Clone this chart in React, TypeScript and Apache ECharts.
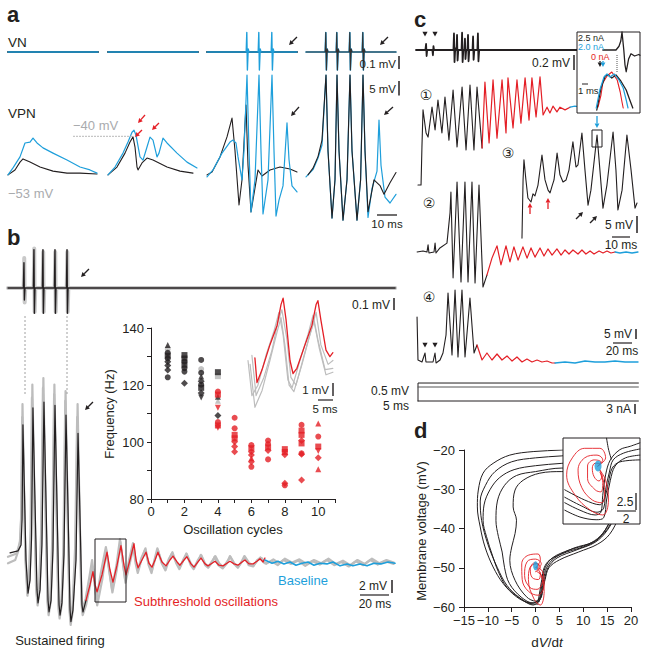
import React, { useEffect, useRef } from "react";
import * as echarts from "echarts";

const FONT = '"Liberation Sans", Arial, Helvetica, sans-serif';
const CIRC = '"DejaVu Sans", "Noto Sans CJK SC", sans-serif';
const BLACK = "#231f20";
const BLUE = "#1e9fdb";
const RED = "#e41f26";
const GRAY = "#bdbdbd";
const LGRAY = "#a9abae";

// ---------------- Panel a (time ms, VN mV, VPN mV) ----------------
const aVnFlat = [[0, 0], [45, 0]];
const aVn3Blue = [[0, 0], [19.6, 0], [19.9, 0.13], [20.2, -0.12], [20.6, 0.02], [21, 0], [25.6, 0], [25.9, 0.13], [26.2, -0.12], [26.6, 0.02], [27, 0], [32.1, 0], [32.4, 0.13], [32.7, -0.12], [33.1, 0.02], [33.5, 0], [45, 0]];
const aVn4 = [[0, 0], [9.6, 0], [9.9, 0.13], [10.2, -0.12], [10.6, 0.02], [11, 0], [15.1, 0], [15.4, 0.13], [15.7, -0.12], [16.1, 0.02], [16.5, 0], [21.6, 0], [21.9, 0.13], [22.2, -0.12], [22.6, 0.02], [23, 0], [28.1, 0], [28.4, 0.13], [28.7, -0.12], [29.1, 0.02], [29.5, 0], [45, 0]];

const a1Blue = [[0, -53.3], [2.5, -50.9], [6, -47.1], [8.5, -42.3], [11, -42], [12.5, -40.6], [14.5, -42.3], [17.5, -44], [22.5, -45.8], [29.5, -48.2], [36, -50.6], [41, -51.6], [44.5, -52.7]];
const a1Black = [[0, -53.3], [3.5, -51.6], [6, -48.9], [7.5, -47.8], [11, -48.9], [16, -50.6], [22.5, -52], [29.5, -52.7], [36, -52.7], [44.5, -53]];
const a2Blue = [[0, -53.3], [3.5, -50.6], [7.5, -45.8], [10, -42], [12, -38.6], [13, -37.9], [14, -39.6], [16, -47.1], [17.5, -48.2], [19.5, -43.7], [21, -40.3], [22.5, -41.3], [24.5, -47.1], [25.5, -45.8], [27.5, -40.6], [29.5, -42.3], [34.5, -45.8], [39.5, -48.9], [44.5, -50.9]];
const a2Black = [[0, -53.3], [4.5, -50.6], [8.5, -45.8], [11, -42], [12.5, -40.2], [13.5, -43.7], [14.5, -50.6], [15, -51.6], [17, -49.2], [19.5, -47.5], [22.5, -48.2], [29.5, -50.6], [36, -52], [42.5, -52.7]];
const a3Black = [[0, -53.3], [2.5, -52.3], [6.5, -47.1], [10, -40.2], [12.5, -33.7], [14, -45], [16, -63.7], [17.5, -55], [19.5, -29.2], [20.5, -50], [22, -66.1], [25.5, -51.6], [27.5, -53.7], [31.5, -51.6], [36.5, -50.6], [41.5, -51.3], [45, -52.3]];
const a3Blue = [[0, -54], [3, -51.6], [7.5, -45.8], [11.5, -42], [13, -41.3], [14.5, -42.3], [15.5, -47.1], [17.5, -55], [18.5, -45], [20, -18.9], [21, -45], [22, -66.1], [24, -55], [26, -18.9], [27, -45], [28, -66.8], [30.5, -55], [32.5, -18.9], [33.5, -45], [34.5, -67.5], [36, -62], [38, -57.1], [40, -35.4], [41, -48], [42.5, -57.1], [45, -59.2]];
const a4Black = [[1, -53.3], [3.5, -51], [6, -47], [8, -41.3], [10, -18.9], [11, -45], [13, -68.2], [14.5, -55], [15.5, -18.9], [16.5, -45], [18.5, -68.9], [20.5, -55], [22, -18.9], [23, -45], [25.5, -68.9], [27.3, -55], [28.5, -18.9], [29.5, -45], [31, -66], [34, -55], [37, -57], [39, -60], [42, -56], [45, -52.5]];
const a4Blue = [[0, -54], [3.5, -51.5], [6, -47.5], [8, -43], [10, -18.9], [11, -45], [13, -68.2], [14.5, -55], [15.5, -18.9], [16.5, -45], [18.5, -68.9], [20.5, -55], [22, -18.9], [23, -45], [25.5, -68.9], [27.3, -55], [28.5, -18.9], [29.5, -45], [31, -68], [33, -58], [35.5, -52], [36.5, -34.4], [37.5, -50], [39.5, -61], [42, -63], [45, -60]];

// ---------------- Panel b ----------------
const bTopBlack = [[0, 0], [10.6, 0], [11, 0.21], [11.3, -0.1], [11.7, 0], [17.5, 0], [17.9, 0.32], [18.2, -0.21], [18.6, 0], [23.7, 0], [24.1, 0.32], [24.4, -0.21], [24.8, 0], [32, 0], [32.4, 0.32], [32.7, -0.21], [33.1, 0], [40.3, 0], [40.7, 0.32], [41, -0.21], [41.4, 0], [267, 0]];
const bTopGray = [[0, 0], [10.8, 0], [11.2, 0.25], [11.5, -0.12], [11.9, 0], [17.7, 0], [18.1, 0.33], [18.4, -0.2], [18.8, 0], [23.9, 0], [24.3, 0.3], [24.6, -0.2], [25, 0], [32.2, 0], [32.6, 0.3], [32.9, -0.2], [33.3, 0], [40.5, 0], [40.9, 0.3], [41.2, -0.2], [41.6, 0], [267, 0]];
const bMainBlack = [[1.4, 1.1], [6.9, 1.4], [9, 2.3], [9.7, 6.2], [10.3, 20.8], [11, 13.8], [12.4, 0], [13.8, -5.1], [15.2, -3.1], [16.2, 3.1], [17.2, 23.4], [18.6, 9.2], [20, -4.6], [20.7, -6.6], [22.1, -4.6], [23.4, 2.3], [24.8, 24.3], [26.2, 9.2], [27.6, -6.2], [28.3, -8], [29.7, -6.2], [31, 1.5], [32.4, 23.8], [33.8, 8.5], [35.2, -6.9], [35.9, -8.5], [37.2, -6.6], [38.6, 0.8], [40, 22.3], [41.4, 7.7], [42.8, -7.7], [43.4, -9.5], [44.8, -7.7], [46.9, 0], [48.3, 19.5], [49.7, 6.2], [51, -6.9], [51.7, -8], [53.8, -6.2]];
const bMainRed = [[53.8, -6.2], [56.6, -3.8], [58.6, -1.8], [60, -3.8], [61.4, -4.9], [64.8, -2.3], [68.3, 1.2], [70.3, -1.5], [72.4, -3.4], [75.2, -0.8], [77.9, 2.2], [80, -0.8], [81.4, -2.3], [84.1, 0], [86.9, 2.5], [88.3, 0], [89.7, -1.2], [92.4, 0], [95.2, 1.2], [97.2, -0.5], [99.3, -1.1], [101.4, 0], [103.4, 1.2], [106.2, -0.3], [109, -0.9], [111.7, 0], [113.8, 0.6], [116.6, -0.3], [118.6, -0.8], [121.4, 0], [123.4, 0.5], [126.2, -0.6], [128.3, -1.1], [131, -0.3], [133.1, 0.3], [135.9, -0.6], [137.9, -0.9], [140.7, -0.5], [142.8, -0.2], [145.5, -0.8], [148.3, -0.9], [151, -0.5], [153.1, -0.2], [155.9, -0.6], [158.6, -0.8], [161.4, -0.3], [163.4, 0], [166.2, -0.6], [169, -0.6], [171.7, -0.2], [173.8, 0.2], [175.9, -0.3], [177.2, 0.3]];
const bMainBlue = [[177.2, 0], [182.1, -0.5], [186.2, -0.2], [190.3, -0.6], [194.5, -0.3], [198.6, -0.8], [202.8, -0.5], [206.9, -0.3], [211, -0.8], [215.2, -0.5], [220, -0.6], [224.1, -0.3], [229, -0.9], [233.8, -0.6], [237.9, -0.9], [242.8, -0.6], [247.6, -0.9], [252.4, -0.5], [257.2, -0.6], [262.1, -0.3], [266.9, -0.5]];
const bGrayA = [[0, 0.5], [6, 1], [8.5, 3], [9.3, 8], [10, 24], [10.8, 14], [12, 0], [13.4, -5.5], [14.8, -3], [16, 4], [16.8, 27], [18.2, 10], [19.6, -5], [20.4, -7], [21.8, -4.5], [23.1, 3], [24.4, 28], [25.8, 10], [27.2, -6.5], [28, -8.5], [29.4, -6.5], [30.8, 2], [32, 27], [33.4, 9], [34.8, -7.5], [35.6, -9], [37, -7], [38.4, 1], [39.7, 26], [41.1, 8], [42.5, -8], [43.2, -10], [44.6, -8], [46.6, 1], [48, 24], [49.4, 7], [50.8, -7], [51.5, -8.5], [53.8, -7], [56.5, -4], [58.4, -1], [60.5, -5], [61.5, -7], [65, -3], [67.8, 1.5], [70, -2], [72, -5], [75, -1.5], [77.5, 2.8], [79.6, -1], [81, -3.5], [84, -0.5], [86.5, 2], [88, -0.5], [89.5, -2], [92, 0], [94.8, 1.8], [97, -0.8], [99, -2], [101, 0], [103, 1.8], [106, -0.5], [108.6, -1.6], [111, 0], [113.4, 1.2], [116, -0.5], [118.2, -1.4], [121, 0], [123, 1], [126, -0.8], [128, -1.4], [131, -0.2], [133, 0.8], [136, -0.8], [138, -1.2], [141, -0.3], [142.5, 0.5], [145, -0.8], [148, -1.3], [151, -0.5], [153, 0.6], [156, -0.6], [158.5, -1.2], [161, -0.3], [163, 0.6], [166, -0.8], [169, -1], [171.5, -0.2], [174, 0.4], [177, -0.5], [182, -0.2], [186, -0.8], [190, 0], [195, -0.6], [200, -0.1], [205, -0.9], [210, -0.2], [215, -0.7], [220, 0], [225, -0.8], [230, -0.3], [235, -1], [240, -0.2], [245, -0.8], [250, 0], [255, -0.7], [260, -0.2], [266, -0.6]];
const bGrayB = [[0, -0.5], [5, 0], [8, 2], [9, 6], [9.8, 22], [10.6, 16], [11.8, 2], [13.2, -4], [14.4, -2.5], [15.6, 5], [16.5, 25], [17.8, 12], [19.3, -4], [20.2, -6], [21.5, -3.5], [22.8, 4], [24.1, 26.5], [25.5, 12], [27, -5], [27.9, -7.5], [29.2, -5.5], [30.5, 3], [31.8, 25.5], [33.2, 11], [34.6, -6], [35.5, -8], [36.9, -6], [38.2, 2], [39.5, 24.5], [40.9, 10], [42.3, -7], [43.1, -9], [44.5, -7], [46.3, 2], [47.7, 22], [49.2, 9], [50.6, -6], [51.4, -7.5], [53.5, -6], [56.2, -2.5], [58, 0], [59.5, -3], [61, -6], [64, -2], [67.5, 2], [69.5, -1], [71.8, -4.5], [75, -0.5], [77.2, 3.2], [79, 0], [80.8, -3], [83.5, 0], [86.2, 2.6], [88, 0], [89.5, -1.6], [92, 0.3], [94.5, 1.6], [96.8, -0.3], [99, -1.7], [101.5, 0.2], [103.3, 1.6], [105.8, -0.2], [108.4, -1.4], [111, 0.2], [113, 1], [115.8, -0.2], [118.3, -1.2], [121, 0.1], [123.3, 0.9], [126, -0.5], [128.4, -1.2], [131, 0], [133.4, 0.7], [136, -0.6], [138.3, -1], [141, -0.1], [143, 0.6], [145.6, -0.5], [148.4, -1.1], [151, -0.3], [153.4, 0.5], [156, -0.5], [158.8, -1], [161.5, -0.2], [163.5, 0.5], [166.5, -0.5], [169.2, -0.9], [172, 0], [175, 0.3], [178, -0.6], [183, 0.1], [187, -0.5], [191, 0.2], [196, -0.4], [201, 0.1], [206, -0.6], [211, 0], [216, -0.5], [221, 0.2], [226, -0.6], [231, -0.1], [236, -0.8], [241, 0], [246, -0.6], [251, 0.2], [256, -0.5], [261, 0], [266, -0.4]];

// Inset of b: frequency vs oscillation cycle  [cycle, Hz, marker]
const freqBlack = [[1, 134, "t"], [1, 131.3, "c"], [1, 130.3, "s"], [1, 129.3, "c"], [1, 128.2, "d"], [1, 126.8, "d"], [1, 125.3, "d"], [1, 122.7, "c"], [2, 130.5, "s"], [2, 129.3, "s"], [2, 128.2, "c"], [2, 127.1, "s"], [2, 125.9, "c"], [2, 124.7, "c"], [2, 120.6, "d"], [3, 128.8, "c"], [3, 124.3, "c"], [3, 123, "t"], [3, 121.3, "d"], [3, 120.1, "c"], [3, 119, "s"], [3, 117.2, "d"], [3, 115.6, "v"], [4, 124.5, "s"], [4, 115.9, "t"], [4, 109.3, "d"]];
const freqGray = [[1, 132.6, "c"], [3, 125.6, "c"], [4, 123.1, "s"], [4, 114.5, "t"]];
const freqRed = [[4, 117.7, "c"], [4, 116.6, "s"], [4, 112, "v"], [4, 107, "c"], [4, 105.8, "s"], [4, 105, "v"], [5, 108.5, "c"], [5, 104.8, "c"], [5, 102.5, "s"], [5, 101.3, "s"], [5, 100.1, "d"], [5, 98.4, "d"], [5, 96.6, "d"], [6, 98.9, "c"], [6, 97.8, "s"], [6, 96.6, "d"], [6, 95.4, "d"], [6, 94.3, "t"], [6, 93.1, "d"], [6, 91.3, "c"], [7, 100.5, "c"], [7, 99.3, "c"], [7, 98.1, "s"], [7, 97, "d"], [7, 93.9, "c"], [8, 97.5, "s"], [8, 96.5, "s"], [8, 95.5, "d"], [8, 85.5, "d"], [8, 84.8, "c"], [9, 106, "c"], [9, 104, "s"], [9, 102.5, "s"], [9, 100.5, "d"], [9, 99.5, "s"], [9, 96, "c"], [9, 95.7, "d"], [9, 86.7, "d"], [10, 106.5, "t"], [10, 101.9, "c"], [10, 98.4, "s"], [10, 96.8, "v"], [10, 94.5, "d"], [10, 90.4, "t"]];
const freqXTicks = [0, 2, 4, 6, 8, 10];
const freqYTicks = [80, 100, 120, 140];

// Superimposed oscillation cycles (ms, mV)
const bInsetRed = [[3.3, 1.7], [4, -0.2], [5.7, 0.8], [8.3, 2.7], [10.7, 4.2], [12, 5.8], [12.7, 6.3], [13.7, 4.6], [15, 1.5], [16, 0.5], [17.3, 0.9], [20, 2.7], [22.3, 4.2], [23.7, 5.8], [24.3, 6.1], [25.3, 4.6], [27, 2.3], [28.3, 1.8], [29.3, 2.1]];
const bInsetGray1 = [[1, 1.5], [2.3, -1.2], [4.3, -0.4], [7, 1.9], [9.7, 3.8], [11.3, 5.2], [12.7, 3.5], [14.3, 0], [15.7, -0.6], [18.3, 1.5], [21, 3.5], [22.7, 5], [24.3, 3.1], [26.7, 0.8], [29.3, 0.9]];
const bInsetGray2 = [[1.7, 1.2], [3.3, -2.1], [5.7, -0.8], [8.3, 1.5], [10.7, 3.7], [12, 4.8], [13.3, 2.7], [14.7, -0.4], [16.3, -0.9], [19, 1.2], [21.3, 3.2], [23, 4.5], [24.7, 2.5], [27, 0.4], [29.3, 0.6]];
const bInsetGray3 = [[2.3, 1.9], [3.7, -1.2], [6.3, 0.2], [9, 2.3], [11, 4.5], [12.3, 5.4], [14, 3.1], [15.3, 0.2], [17, -0.4], [19.7, 1.9], [22, 3.8], [23.7, 5.2], [25.3, 2.7], [27.7, 1.2], [29.3, 1.5]];

// ---------------- Panel c ----------------
const cTop = [[0, 0], [5.2, 0], [5.6, 0.08], [5.9, -0.08], [6.2, 0], [9.1, 0], [9.4, -0.07], [9.7, 0.05], [10, 0], [20.8, 0], [21.1, 0.22], [21.4, -0.16], [21.8, 0.02], [22.5, 0], [22.8, 0.2], [23.1, -0.14], [23.5, 0], [25.3, 0], [25.6, 0.23], [25.9, -0.16], [26.3, 0], [26.9, 0], [27.2, 0.15], [27.5, -0.12], [27.9, 0], [28.6, 0], [28.9, 0.2], [29.2, -0.15], [29.6, 0], [31.4, 0], [31.7, 0.18], [32, -0.13], [32.4, 0], [34.1, 0], [34.4, 0.22], [34.7, -0.15], [35.1, 0], [91, 0]];
const c1Black = [[1.1, -10.3], [2.8, -10.3], [3.3, 0.9], [3.9, 11.8], [5.6, 5], [6.7, 3.8], [8.9, 12.6], [10.6, 5.9], [12.2, 14.7], [14.4, 5], [16.1, 15.6], [18.3, 2.9], [20.6, 17.6], [22.8, 0.9], [25.6, 18.5], [27.8, 0], [30, 19.1], [32.2, 0], [33.9, 18.5], [36.7, 0.6]];
const c1Red = [[36.7, 0.6], [38.3, 20], [40.6, 2.1], [42.8, 20.6], [45, 3.5], [47.8, 20.6], [50, 5], [51.1, 21.2], [53.9, 6.5], [56.1, 20.6], [58.3, 7.9], [60.6, 21.2], [62.8, 8.8], [64.4, 21.2], [66.7, 9.7], [68.9, 21.5], [70.6, 10.3], [72.8, 12.6], [74.4, 10.9], [76.1, 12.9], [78.3, 11.2], [80, 12.6], [82.8, 11.8], [85.6, 12.6]];
const c1Blue = [[85.6, 12.6], [88.3, 12.9], [91.1, 12.6]];
const c2Black = [[0.6, 0], [3.9, 0.3], [6.1, 0], [6.7, 2.1], [7.2, -0.3], [10, 0], [10.6, 2.6], [11.1, -0.3], [13.3, 1.2], [17.2, 2.6], [18.9, 11.5], [19.4, 17.6], [20.6, -7.6], [22.8, 20.6], [25, -8.8], [27.2, 20.6], [28.9, -8.8], [31.1, 20.6], [32.8, -9.1], [35, 19.7], [37.2, -10.3], [39.4, -6.8]];
const c2Red = [[39.4, -6.8], [42.2, -1.8], [45, 1.8], [47.2, -3.8], [50, 1.8], [52.2, -2.9], [54.4, 1.5], [56.7, -2.4], [59.4, 1.5], [61.7, -1.8], [63.9, 1.2], [66.1, -1.5], [68.9, 1.2], [71.1, -1.2], [73.3, 0.9], [75.6, -0.9], [78.3, 0.9], [80.6, -0.9], [82.8, 0.6], [85, -0.6], [87.2, 0.6], [90, -0.6], [92.2, 0.6], [94.4, -0.6], [96.7, 0.3], [98.9, -0.6], [101.7, 0.3], [103.9, -0.3], [106.1, 0.3], [108.3, -0.3], [110.6, 0]];
const c2Blue = [[110.6, 0], [113.3, -0.3], [116.7, 0], [120, -0.3], [123.3, 0]];
const c3Black = [[1.1, -11.2], [1.7, 5.9], [2.2, 11.8], [3.3, 5.9], [4.4, 0.6], [6.1, -0.6], [7.2, 1.8], [8.3, 1.2], [10, 4.4], [12.2, 13.2], [13.9, 5.9], [15.6, 2.9], [16.7, 2.1], [17.8, 4.1], [18.9, 5.9], [20.6, 13.8], [22.2, 7.4], [23.9, 5.3], [25.6, 5.9], [27.2, 8.8], [29.4, 17.1], [31.1, 9.7], [32.2, 10.3], [34.4, 19.7], [36.1, 8.8], [37.8, -1.5], [39.4, 2.9], [42.8, 19.1], [44.4, 8.8], [46.1, -2.4], [48.3, 4.4], [51.7, 20], [53.3, 8.8], [54.4, -2.9], [56.7, 2.9], [59.4, 19.1], [61.7, 8.8], [63.9, -2.4], [65, -0.9]];
const c4Black = [[1.1, 22.5], [2.1, 1], [6.3, 0], [9.5, 4.5], [10.5, 0], [17.9, 0], [20, 4.5], [21.1, -0.5], [25.3, 1], [28.4, 4.5], [31.6, 13.5], [33.7, 34.5], [37.9, 3.5], [41.1, 36], [44.2, 2.5], [48.4, 36], [51.6, 2.5], [56.8, 32], [61.1, 4.5], [64.2, 8.5]];
const c4Red = [[64.2, 8.5], [69.5, 1], [74.7, 4.5], [80, 1], [85.3, 4], [90.5, 1], [95.8, 3], [101.1, 0.5], [106.3, 2.5], [111.6, 0], [116.8, 1.5], [122.1, 0], [127.4, 1], [132.6, 0], [137.9, 0.5], [143.2, -0.5], [146.3, -0.5]];
const c4Blue = [[146.3, -0.5], [156.8, 0], [167.4, -0.5], [177.9, 0.5], [188.4, 0], [198.9, 0], [209.5, 0.5], [220, 0], [233.7, 0]];
const cCurrentStep = [[0, 0], [0, 5.4], [232, 5.4]];
const cCurrentBase = [[0, 0], [232, 0]];
const cExtBottom = [[0, 0], [232, 0]];
// inset of c (ms)
const ciExt = [[4.3, 0], [6.5, 0], [7, 0.05], [7.3, 0.12], [7.5, 0.24], [7.8, 0], [8, -0.2], [8.2, -0.29], [8.6, -0.12], [9, -0.05], [9.6, -0.08], [10.3, -0.06], [10.5, -0.07]];
const ciBlack = [[3.3, 0], [4, 8.8], [4.7, 13.6], [5.2, 14], [5.8, 12.8], [6.5, 14], [7.3, 11.6], [8.2, 8], [8.8, 4], [9.3, 0.8]];
const ciBlue = [[3.2, 0.8], [3.8, 8], [4.5, 13.2], [5, 14.4], [5.5, 13.2], [6.2, 14.4], [7, 12], [7.7, 8.8], [8.2, 4], [8.5, 0.8]];
const ciRed = [[3.5, 1.2], [4, 6], [4.3, 10.8], [5, 13.6], [5.8, 15.2], [6.7, 12], [7.2, 7.2], [7.5, 3.2], [7.7, 0.8]];

// ---------------- Panel d (dV/dt, V in mV) ----------------
const dLoop1 = [[0.5, -59], [1.3, -53], [1.8, -50], [3, -48], [6.5, -46], [10, -44.7], [12.8, -43], [14.6, -40.4], [16.3, -36.2], [18, -31], [19.5, -25], [20.5, -20], [15, -19.3], [10, -19.5], [5.5, -20], [-0.5, -20.4], [-5.4, -21.3], [-8.9, -23.4], [-11, -25.9], [-12, -30.2], [-12.2, -34.5], [-11.6, -39.6], [-10.6, -44.7], [-8.9, -49.8], [-6.8, -54], [-4, -57.4], [-1.2, -59.1], [0.5, -59.3]];
const dLoop2 = [[0.8, -58.5], [1.5, -53], [2, -50], [3.5, -47.5], [7, -45.5], [11, -44], [13.5, -42], [15.5, -38.5], [17.5, -33], [19.5, -26], [20.5, -22], [10, -21], [5.5, -21.5], [0, -22], [-5, -23], [-8.5, -25.5], [-10.5, -29], [-11.6, -33], [-11.3, -38], [-10, -44], [-8, -50], [-6, -54.5], [-3.5, -57.5], [-1, -59], [0.8, -58.5]];
const dLoop3 = [[1, -58], [1.7, -53], [2.3, -50], [4, -47.5], [8, -45], [12, -43.5], [14.5, -41], [16.5, -37], [18.5, -31], [20, -26], [20.5, -24], [10, -23], [5.5, -23.4], [0, -24], [-4.5, -25], [-7.5, -27], [-9.5, -30], [-10.8, -34], [-11, -38], [-10.3, -42], [-9, -47], [-7.8, -51], [-6, -55], [-3, -58], [-0.5, -59.5], [1, -58]];
const dLoop4 = [[1.2, -57.5], [1.9, -53], [2.6, -50], [4.5, -47.5], [8.5, -45.5], [12.5, -43.5], [15, -40.5], [17, -36], [19, -30], [20.5, -26], [10, -24.6], [5.5, -24.6], [0, -25.5], [-4, -26.5], [-6.5, -29], [-8, -33], [-8.3, -38], [-7.8, -42], [-7, -46], [-6.5, -50], [-5.5, -54], [-3, -57.5], [-0.5, -59], [1.2, -57.5]];
const dLoop5 = [[1.3, -57], [2, -53], [2.8, -50], [5, -48], [9, -46], [13, -44], [15.5, -41.5], [17.5, -37], [19.5, -31], [20.5, -28], [10, -25.5], [5.5, -25.5], [0.9, -25.9], [-2.6, -27.7], [-4.3, -30.2], [-4.7, -34.5], [-4, -37.9], [-4.3, -41.3], [-5, -44.7], [-5.4, -48.1], [-4.3, -53.2], [-1.9, -57.4], [0, -58.5], [1.3, -57]];
const dRed1 = [[0, -50], [1, -48], [0.5, -46.5], [-1.5, -46.8], [-2.9, -49], [-2.8, -53], [-1.5, -56], [0.5, -57], [1.8, -54], [1.5, -51], [0.5, -50]];
const dRed2 = [[0.3, -50.5], [1.2, -49], [0, -47.8], [-1.8, -48.5], [-2.3, -52], [-1.2, -55], [0.3, -55.5], [1.5, -53], [0.8, -51]];
const dRed3 = [[0, -51], [1, -50], [0.2, -49], [-1.2, -50], [-1.5, -53], [-0.3, -58], [1, -59.5], [1.8, -56], [1.2, -52], [0.3, -51]];
const dRed4 = [[0.2, -50], [0.8, -49.3], [-0.3, -48.8], [-1.1, -50.5], [-0.7, -52.5], [0.6, -53], [1, -51.5], [0.2, -50]];
const dFixed = [[0, -49.5]];
const dXTicks = [-15, -10, -5, 0, 5, 10, 15, 20];
const dYTicks = [-60, -50, -40, -30, -20];
// inset of d
const diBlack1 = [[-3.5, -55.4], [-1.9, -56.5], [-0.3, -57.2], [0.3, -56.8], [0.5, -54.3], [0.8, -51.3], [1.3, -49.1], [2.3, -47.6], [3.4, -47.1], [4.4, -46.6]];
const diBlack2 = [[-3.5, -54.6], [-1.7, -55.9], [-0.1, -56.8], [0.6, -56.2], [0.8, -53.5], [1.2, -50.9], [1.6, -49.1], [2.7, -48.1], [4.4, -47.5]];
const diBlack3 = [[-3.5, -56.5], [-1.9, -57.5], [-0.2, -57.9], [0.6, -57.6], [0.9, -55], [1.3, -52.1], [1.8, -50], [2.9, -48.8], [4.4, -48.4]];
const diBlack4 = [[-3.5, -53.5], [-1.4, -55], [0.2, -55.7], [0.7, -54.7], [1.1, -52.4], [1.5, -50.3], [2.3, -49.4], [4.4, -49.1]];
const diBlack5 = [[0.9, -45.9], [1.1, -47.5], [1.4, -49]];
const diRed1 = [[0, -50], [0.8, -48.8], [0.2, -47.4], [-1.4, -47.4], [-2.7, -48.8], [-3.3, -51.3], [-2.4, -54.3], [-0.8, -56.5], [0.5, -57.2], [1.1, -55], [0.8, -52.1], [0.2, -50.6]];
const diRed2 = [[0, -50], [0.5, -49.1], [-0.1, -48.4], [-1.4, -48.8], [-2.1, -50.6], [-1.7, -53.2], [-0.6, -55], [0.4, -55.4], [0.7, -53.5], [0.4, -51.3]];
const diRed3 = [[0, -50], [0.3, -49.4], [-0.4, -49.1], [-1.1, -50], [-1.1, -51.8], [-0.3, -53.5], [0.3, -53.8], [0.5, -52.4], [0.2, -50.9]];
const diRed4 = [[0, -50], [0.2, -49.7], [-0.3, -49.6], [-0.6, -50.3], [-0.4, -51.6], [0.1, -52.2], [0.4, -51.5], [0.2, -50.6]];
const diFixed = [[0, -50]];

// ---------------- layout (pixel rects and calibrations) ----------------
const aSegLeft = [8, 108, 207, 306];

function buildOption() {
  const grid: any[] = [];
  const xAxis: any[] = [];
  const yAxis: any[] = [];
  const series: any[] = [];
  const g: any[] = [];

  // rect: [left, top, width, height]; cal: [px of x=0, px of y=0, px per x unit, px per y unit]
  const panel = (rect: number[], cal: number[]) => {
    const [l, t, w, h] = rect;
    const [x0, y0, sx, sy] = cal;
    const i = grid.length;
    grid.push({ left: l, top: t, width: w, height: h });
    xAxis.push({ type: "value", gridIndex: i, show: false, min: (l - x0) / sx, max: (l + w - x0) / sx });
    yAxis.push({ type: "value", gridIndex: i, show: false, min: (y0 - (t + h)) / sy, max: (y0 - t) / sy });
    return i;
  };
  const trace = (i: number, data: any, color: string, width = 1.1, o: any = {}) =>
    series.push({
      type: "line", xAxisIndex: i, yAxisIndex: i, data, symbol: "none", showSymbol: false,
      smooth: o.smooth ?? false, clip: o.clip ?? false, silent: true, z: o.z ?? 3,
      lineStyle: { color, width, join: "round", cap: "round" },
    });

  const txt = (text: string, x: number, y: number, o: any = {}) =>
    g.push({
      type: "text", x, y, rotation: o.rot || 0, z: 50, silent: true,
      style: {
        text, fill: o.fill || BLACK, fontSize: o.size || 13, fontWeight: o.bold ? "bold" : "normal",
        fontFamily: o.family || FONT, align: o.align || "left", verticalAlign: "middle", rich: o.rich,
      },
    });
  const ln = (x1: number, y1: number, x2: number, y2: number, o: any = {}) =>
    g.push({ type: "line", z: 40, silent: true, shape: { x1, y1, x2, y2 }, style: { stroke: o.c || BLACK, lineWidth: o.w || 1, lineDash: o.dash } });
  const box = (x: number, y: number, w: number, h: number, o: any = {}) =>
    g.push({ type: "rect", z: o.z || 40, silent: true, shape: { x, y, width: w, height: h }, style: { fill: o.fill || "none", stroke: BLACK, lineWidth: 1 } });
  const arrow = (x1: number, y1: number, x2: number, y2: number, c: string) => {
    const a = Math.atan2(y2 - y1, x2 - x1);
    const L = 4.5, W = 2.4;
    const bx = x2 - L * Math.cos(a), by = y2 - L * Math.sin(a);
    const px = -Math.sin(a) * W, py = Math.cos(a) * W;
    g.push({ type: "line", z: 45, silent: true, shape: { x1, y1, x2: bx, y2: by }, style: { stroke: c, lineWidth: 1.3 } });
    g.push({ type: "polygon", z: 45, silent: true, shape: { points: [[x2, y2], [bx + px, by + py], [bx - px, by - py]] }, style: { fill: c } });
  };
  const tri = (x: number, y: number) =>
    g.push({ type: "polygon", z: 45, silent: true, shape: { points: [[x - 2.6, y - 2.2], [x + 2.6, y - 2.2], [x, y + 2.4]] }, style: { fill: BLACK } });

  // ===== Panel a =====
  const vpnSets = [[a1Black, a1Blue], [a2Black, a2Blue], [a3Black, a3Blue], [a4Black, a4Blue]];
  const vnSets = [[aVnFlat, aVnFlat], [aVnFlat, aVnFlat], [aVnFlat, aVn3Blue], [aVn4, aVn4]];
  aSegLeft.forEach((L, k) => {
    const vn = panel([L - 1, 25, 92, 50], [L, 52, 2, 150]);
    const vp = panel([L - 1, 60, 92, 172], [L, 20.3, 2, 2.9]);
    if (k < 3) {
      trace(vn, vnSets[k][0], "#333", 2.2);
      trace(vn, vnSets[k][1], BLUE, 1.4, { z: 4 });
      trace(vp, vpnSets[k][0], BLACK, 1.1);
      trace(vp, vpnSets[k][1], BLUE, 1.2, { z: 4 });
    } else {
      trace(vn, vnSets[k][1], BLUE, 1.6);
      trace(vn, vnSets[k][0], "#333", 1.1, { z: 4 });
      trace(vp, vpnSets[k][1], BLUE, 1.2);
      trace(vp, vpnSets[k][0], BLACK, 1.1, { z: 4 });
    }
  });
  txt("a", 7, 14, { size: 22, bold: true });
  txt("VN", 8, 42.5, { size: 13.5 });
  txt("VPN", 8, 113.5, { size: 13.5 });
  txt("\u221240 mV", 73, 125.5, { size: 13, fill: LGRAY });
  txt("\u221253 mV", 8, 193.5, { size: 13, fill: LGRAY });
  ln(73, 136.3, 133, 136.3, { c: "#b8b8b8", dash: [2, 1] });
  txt("0.1 mV", 396, 63.5, { size: 11.5, align: "right" });
  ln(399, 56, 399, 69, { w: 1.5 });
  txt("5 mV", 396, 88.5, { size: 11.5, align: "right" });
  ln(399, 81, 399, 95.5, { w: 1.5 });
  ln(377, 215, 397, 215, { w: 1.3 });
  txt("10 ms", 387, 224, { size: 11.5, align: "center" });
  arrow(297, 37, 289, 45, BLACK);
  arrow(388, 37, 380, 45, BLACK);
  arrow(299, 107, 291, 116, BLACK);
  arrow(393, 107, 384, 115, BLACK);
  arrow(145, 115, 138, 123, RED);
  arrow(142, 130, 135, 137, RED);
  arrow(159, 123, 152, 130, RED);

  // ===== Panel b =====
  const bt = panel([8, 240, 392, 90], [8, 288, 1.45, 120]);
  trace(bt, bTopGray, "#c9c9c9", 4);
  trace(bt, bTopBlack, BLACK, 1.4, { z: 4 });
  const bm = panel([8, 370, 392, 272], [8, 560, 1.45, 6.5]);
  trace(bm, bGrayA, GRAY, 2.2);
  trace(bm, bGrayB, GRAY, 2.2);
  trace(bm, bMainBlack, BLACK, 1.2, { z: 4 });
  trace(bm, bMainRed, RED, 1.3, { z: 4 });
  trace(bm, bMainBlue, BLUE, 1.6, { z: 4 });
  ln(25, 316, 25, 395, { c: "#a0a0a0", dash: [2, 2] });
  ln(67, 316, 67, 395, { c: "#a0a0a0", dash: [2, 2] });
  box(95, 539, 31, 63);
  arrow(89, 269, 81, 277, BLACK);
  arrow(93, 402, 85, 410, BLACK);
  txt("b", 7, 237, { size: 22, bold: true });
  txt("0.1 mV", 390, 304.5, { size: 12, align: "right" });
  ln(394, 298, 394, 310, { w: 1.5 });
  txt("Baseline", 303, 580, { size: 13, fill: BLUE, align: "center" });
  txt("Subthreshold oscillations", 206, 601, { size: 13, fill: RED, align: "center" });
  txt("2 mV", 387, 585.5, { size: 12, align: "right" });
  ln(392, 580, 392, 593, { w: 1.5 });
  ln(360, 595, 389, 595, { w: 1.2 });
  txt("20 ms", 375, 604, { size: 12, align: "center" });
  txt("Sustained firing", 60, 640, { size: 13, align: "center" });

  // scatter inset
  const si = grid.length;
  grid.push({ left: 151, top: 328, width: 184, height: 171 });
  const fmt = (v: number) => String(v).replace("-", "\u2212");
  xAxis.push({
    type: "value", gridIndex: si, min: 0, max: 11, interval: 1,
    axisLine: { show: true, onZero: false, lineStyle: { color: BLACK, width: 1 } },
    axisTick: { show: true, length: 4, lineStyle: { color: BLACK } },
    splitLine: { show: false },
    axisLabel: { fontSize: 13, color: BLACK, fontFamily: FONT, margin: 6, formatter: (v: number) => (freqXTicks.includes(v) ? String(v) : "") },
  });
  yAxis.push({
    type: "value", gridIndex: si, min: 80, max: 140, interval: 10,
    axisLine: { show: true, onZero: false, lineStyle: { color: BLACK, width: 1 } },
    axisTick: { show: true, length: 4, lineStyle: { color: BLACK } },
    splitLine: { show: false },
    axisLabel: { fontSize: 13, color: BLACK, fontFamily: FONT, margin: 7, formatter: (v: number) => (freqYTicks.includes(v) ? String(v) : "") },
  });
  const sym = (c: string) =>
    c === "t" ? { symbol: "triangle" } : c === "v" ? { symbol: "triangle", symbolRotate: 180 } : c === "s" ? { symbol: "rect" } : c === "d" ? { symbol: "diamond" } : { symbol: "circle" };
  const scat = (arr: any[], color: string, z: number) =>
    series.push({
      type: "scatter", xAxisIndex: si, yAxisIndex: si, symbolSize: 6, silent: true, z,
      itemStyle: { color },
      data: arr.map((p) => ({ value: [p[0], p[1]], ...sym(p[2]), symbolSize: p[2] === "d" ? 7 : 6 })),
    });
  scat(freqGray, "#b5b5b5", 5);
  scat(freqBlack, BLACK, 6);
  scat(freqRed, RED, 6);
  txt("Frequency (Hz)", 109, 414, { size: 13, rot: Math.PI / 2, align: "center" });
  txt("Oscillation cycles", 233, 529, { size: 13, align: "center" });

  const bi = panel([245, 289, 92, 130], [245, 380, 3, 13]);
  trace(bi, bInsetGray1, GRAY, 1.2);
  trace(bi, bInsetGray2, GRAY, 1.2);
  trace(bi, bInsetGray3, GRAY, 1.2);
  trace(bi, bInsetRed, RED, 1.3, { z: 4 });
  txt("1 mV", 329, 389.5, { size: 11.5, align: "right" });
  ln(333, 383, 333, 396, { w: 1.4 });
  ln(318, 400, 333, 400, { w: 1.2 });
  txt("5 ms", 325, 409, { size: 11.5, align: "center" });

  // ===== Panel c =====
  const ct = panel([416, 28, 164, 40], [416, 50, 1.8, 75]);
  trace(ct, cTop, BLACK, 1.8);
  const c1 = panel([416, 70, 165, 125], [416, 150, 1.8, 3.4]);
  trace(c1, c1Black, BLACK, 1.1);
  trace(c1, c1Red, RED, 1.2);
  trace(c1, c1Blue, BLUE, 1.4);
  const c2 = panel([416, 175, 224, 120], [416, 252, 1.8, 3.4]);
  trace(c2, c2Black, BLACK, 1.1);
  trace(c2, c2Red, RED, 1.2);
  trace(c2, c2Blue, BLUE, 1.4);
  const c3 = panel([518, 120, 122, 125], [520, 200, 1.8, 3.4]);
  trace(c3, c3Black, BLACK, 1.1);
  const c4 = panel([416, 285, 224, 85], [416, 362, 0.95, 2]);
  trace(c4, c4Black, BLACK, 1.1);
  trace(c4, c4Red, RED, 1.2);
  trace(c4, c4Blue, BLUE, 1.4);
  const cc = panel([416, 378, 224, 28], [418, 401, 0.95, 3.33]);
  trace(cc, cCurrentBase, BLACK, 1);
  trace(cc, cCurrentStep, BLACK, 1);
  const ce = panel([416, 380, 224, 14], [418, 387, 0.95, 30]);
  trace(ce, cExtBottom, "#555", 1);

  box(577, 32, 63, 81, { fill: "#fff", z: 5 });
  const cie = panel([577, 28, 63, 50], [577, 50, 6, 75]);
  trace(cie, ciExt, BLACK, 1.3, { z: 10 });
  const cii = panel([577, 60, 63, 55], [577, 110, 6, 2.5]);
  trace(cii, ciRed, RED, 1.1, { z: 10 });
  trace(cii, ciBlack, BLACK, 1.3, { z: 10 });
  trace(cii, ciBlue, BLUE, 1.2, { z: 11 });
  ln(617, 55, 617, 72, { c: "#555", dash: [1, 1] });
  txt("2.5 nA", 578, 37.5, { size: 9 });
  txt("2.0 nA", 578, 47, { size: 9, fill: BLUE });
  txt("0 nA", 591, 56.5, { size: 9, fill: RED });
  txt("1 ms", 578, 90, { size: 9.5 });
  ln(582, 84, 588, 84);
  arrow(600, 61, 600, 67, BLACK);
  arrow(603, 61, 603, 67, BLUE);

  txt("c", 414, 19, { size: 22, bold: true });
  txt("0.2 mV", 570, 62.5, { size: 12, align: "right" });
  ln(574, 55, 574, 70, { w: 1.5 });
  tri(425, 34);
  tri(435, 34);
  tri(425, 345);
  tri(435, 345);
  txt("\u2460", 426, 95, { size: 14, family: CIRC, align: "center" });
  txt("\u2461", 429, 203, { size: 14, family: CIRC, align: "center" });
  txt("\u2462", 508, 153, { size: 14, family: CIRC, align: "center" });
  txt("\u2463", 429, 297, { size: 14, family: CIRC, align: "center" });
  box(592, 130, 10, 17);
  arrow(597, 116, 597, 128, BLUE);
  arrow(530, 214, 530, 203, RED);
  arrow(548, 209, 548, 198, RED);
  arrow(576, 219, 583, 212, BLACK);
  arrow(590, 223, 597, 216, BLACK);
  txt("5 mV", 633, 224.5, { size: 12, align: "right" });
  ln(637, 216, 637, 233, { w: 1.5 });
  ln(612, 237, 630, 237, { w: 1.2 });
  txt("10 ms", 621, 245, { size: 12, align: "center" });
  txt("5 mV", 632, 334, { size: 12, align: "right" });
  ln(636, 329, 636, 339, { w: 1.5 });
  ln(613, 343, 632, 343, { w: 1.2 });
  txt("20 ms", 622, 351, { size: 12, align: "center" });
  txt("0.5 mV", 409, 390.5, { size: 12, align: "right" });
  txt("5 ms", 409, 406, { size: 12, align: "right" });
  txt("3 nA", 631, 409, { size: 12, align: "right" });
  ln(635, 404, 635, 414, { w: 1.5 });

  // ===== Panel d =====
  const di = grid.length;
  grid.push({ left: 464, top: 450, width: 167, height: 157 });
  xAxis.push({
    type: "value", gridIndex: di, min: -15, max: 20, interval: 5,
    axisLine: { show: true, onZero: false, lineStyle: { color: BLACK, width: 1 } },
    axisTick: { show: true, length: 5, lineStyle: { color: BLACK } },
    splitLine: { show: false },
    axisLabel: { fontSize: 13, color: BLACK, fontFamily: FONT, margin: 7, formatter: (v: number) => (dXTicks.includes(v) ? fmt(v) : "") },
  });
  yAxis.push({
    type: "value", gridIndex: di, min: -60, max: -20, interval: 10,
    axisLine: { show: true, onZero: false, lineStyle: { color: BLACK, width: 1 } },
    axisTick: { show: true, length: 5, lineStyle: { color: BLACK } },
    splitLine: { show: false },
    axisLabel: { fontSize: 13, color: BLACK, fontFamily: FONT, margin: 9, formatter: (v: number) => (dYTicks.includes(v) ? fmt(v) : "") },
  });
  [dLoop1, dLoop2, dLoop3, dLoop4, dLoop5].forEach((d) => trace(di, d, BLACK, 1, { smooth: 0.35, clip: true }));
  [dRed1, dRed2, dRed3, dRed4].forEach((d) => trace(di, d, RED, 0.9, { smooth: 0.4, clip: true, z: 4 }));
  series.push({ type: "scatter", xAxisIndex: di, yAxisIndex: di, data: dFixed, symbol: "circle", symbolSize: [5, 9], itemStyle: { color: BLUE }, z: 6, silent: true });

  box(563, 438, 77, 86, { fill: "#fff", z: 5 });
  const dii = panel([563, 438, 77, 86], [598, 126, 9.5, 6.8]);
  [diBlack1, diBlack2, diBlack3, diBlack4, diBlack5].forEach((d) => trace(dii, d, BLACK, 1, { smooth: 0.35, clip: true, z: 10 }));
  [diRed1, diRed2, diRed3, diRed4].forEach((d) => trace(dii, d, RED, 0.9, { smooth: 0.4, clip: true, z: 11 }));
  series.push({ type: "scatter", xAxisIndex: dii, yAxisIndex: dii, data: diFixed, symbol: "circle", symbolSize: [7, 11], itemStyle: { color: BLUE }, z: 12, silent: true });

  txt("d", 414, 430, { size: 22, bold: true });
  txt("Membrane voltage (mV)", 421, 531, { size: 13, rot: Math.PI / 2, align: "center" });
  txt("{n|d}{i|V}{n|/d}{i|t}", 547, 642, {
    size: 13.5, align: "center",
    rich: {
      n: { fontSize: 13.5, fontFamily: FONT, fill: BLACK },
      i: { fontSize: 13.5, fontFamily: FONT, fontStyle: "italic", fill: BLACK },
    },
  });
  txt("2.5", 625, 502, { size: 12, align: "center" });
  ln(636, 493, 636, 510, { w: 1.3 });
  ln(617, 511, 636, 511, { w: 1.1 });
  txt("2", 626, 519, { size: 12, align: "center" });

  return { animation: false, backgroundColor: "#ffffff", grid, xAxis, yAxis, series, graphic: g };
}

export default function App() {
  const ref = useRef<HTMLDivElement>(null);
  useEffect(() => {
    const chart = echarts.init(ref.current as HTMLDivElement, undefined, { renderer: "svg" });
    chart.setOption(buildOption() as any);
    return () => chart.dispose();
  }, []);
  return <div ref={ref} style={{ position: "absolute", left: 0, top: 0, width: 648, height: 655, background: "#fff" }} />;
}
